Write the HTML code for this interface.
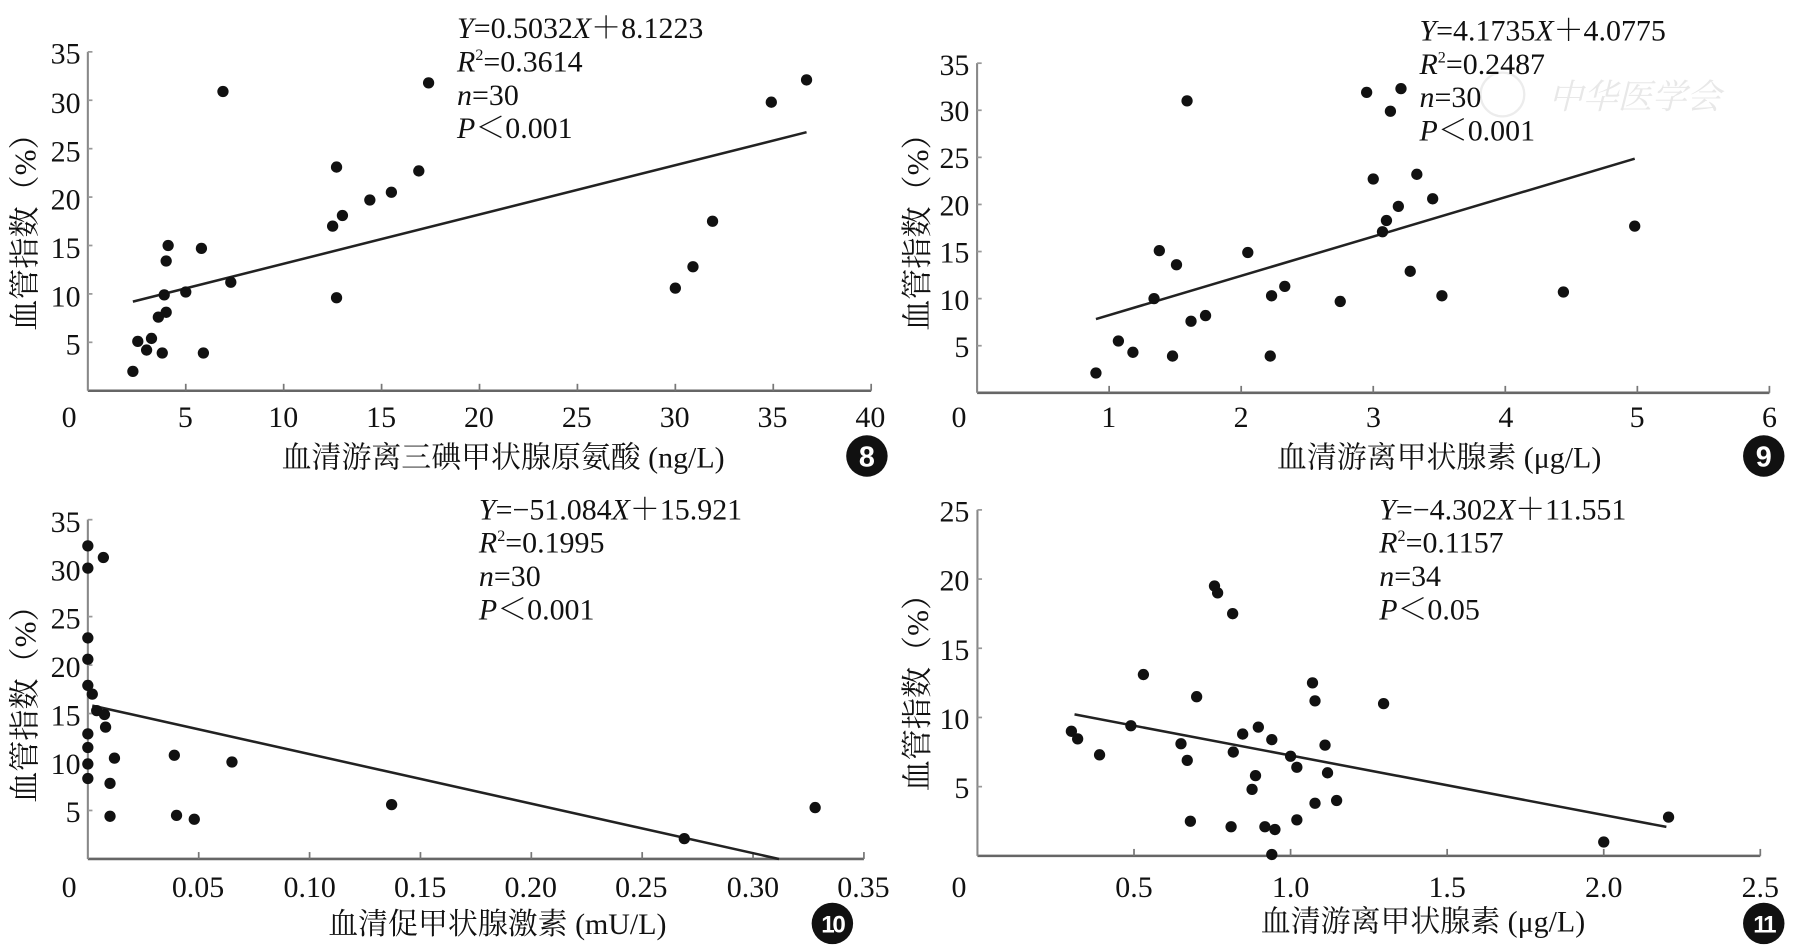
<!DOCTYPE html>
<html><head><meta charset="utf-8"><style>
html,body{margin:0;padding:0;background:#fff;}
svg{display:block;}
text{font-family:"Liberation Serif","Noto Serif CJK SC",serif;fill:#111;}
.cn{font-family:"Liberation Serif","Noto Serif CJK SC","Noto Sans CJK SC",serif;}
</style></head><body>
<svg id="s" width="1796" height="950" viewBox="0 0 1560 825" xmlns="http://www.w3.org/2000/svg" font-family="Liberation Serif, serif">
<rect width="1560" height="825" fill="#fff"/>
<g id="plot"></g>
<text x="1345" y="94" font-size="30" style="fill:#e8e8e8;font-style:italic" class="cn">中华医学会</text>
<circle cx="1305" cy="82" r="19" fill="none" stroke="#ececec" stroke-width="2"/>

<g font-size="26">
<text x="397" y="33"><tspan font-style="italic">Y</tspan>=0.5032<tspan font-style="italic">X</tspan>＋8.1223</text>
<text x="397" y="62"><tspan font-style="italic">R</tspan><tspan font-size="14" dy="-10">2</tspan><tspan dy="10">=0.3614</tspan></text>
<text x="397" y="91"><tspan font-style="italic">n</tspan>=30</text>
<text x="397" y="120"><tspan font-style="italic">P</tspan>＜0.001</text>

<text x="1233" y="35"><tspan font-style="italic">Y</tspan>=4.1735<tspan font-style="italic">X</tspan>＋4.0775</text>
<text x="1233" y="64"><tspan font-style="italic">R</tspan><tspan font-size="14" dy="-10">2</tspan><tspan dy="10">=0.2487</tspan></text>
<text x="1233" y="93"><tspan font-style="italic">n</tspan>=30</text>
<text x="1233" y="122"><tspan font-style="italic">P</tspan>＜0.001</text>

<text x="416" y="451"><tspan font-style="italic">Y</tspan>=−51.084<tspan font-style="italic">X</tspan>＋15.921</text>
<text x="416" y="480"><tspan font-style="italic">R</tspan><tspan font-size="14" dy="-10">2</tspan><tspan dy="10">=0.1995</tspan></text>
<text x="416" y="509"><tspan font-style="italic">n</tspan>=30</text>
<text x="416" y="538"><tspan font-style="italic">P</tspan>＜0.001</text>

<text x="1198" y="451"><tspan font-style="italic">Y</tspan>=−4.302<tspan font-style="italic">X</tspan>＋11.551</text>
<text x="1198" y="480"><tspan font-style="italic">R</tspan><tspan font-size="14" dy="-10">2</tspan><tspan dy="10">=0.1157</tspan></text>
<text x="1198" y="509"><tspan font-style="italic">n</tspan>=34</text>
<text x="1198" y="538"><tspan font-style="italic">P</tspan>＜0.05</text>
</g>

<g font-size="27" class="cn">
<text class="cn" transform="translate(31,195) rotate(-90)" text-anchor="middle">血管指数（%）</text>
<text class="cn" transform="translate(806,195) rotate(-90)" text-anchor="middle">血管指数（%）</text>
<text class="cn" transform="translate(31,605) rotate(-90)" text-anchor="middle">血管指数（%）</text>
<text class="cn" transform="translate(806,595) rotate(-90)" text-anchor="middle">血管指数（%）</text>
</g>
<g font-size="26" class="cn">
<text class="cn" x="437" y="406" text-anchor="middle">血清游离三碘甲状腺原氨酸 (ng/L)</text>
<text class="cn" x="1250" y="406" text-anchor="middle">血清游离甲状腺素 (μg/L)</text>
<text class="cn" x="432" y="811" text-anchor="middle">血清促甲状腺激素 (mU/L)</text>
<text class="cn" x="1236" y="809" text-anchor="middle">血清游离甲状腺素 (μg/L)</text>
</g>
<g font-weight="bold">
<circle cx="753" cy="396" r="18" fill="#111"/><text x="753" y="405" text-anchor="middle" font-size="25" style="fill:#fff;font-family:'Liberation Sans',sans-serif">8</text>
<circle cx="1532" cy="396" r="18" fill="#111"/><text x="1532" y="405" text-anchor="middle" font-size="25" style="fill:#fff;font-family:'Liberation Sans',sans-serif">9</text>
<circle cx="723" cy="802" r="18" fill="#111"/><text x="723" y="810" text-anchor="middle" font-size="21" style="fill:#fff;font-family:'Liberation Sans',sans-serif;letter-spacing:-2px">10</text>
<circle cx="1532" cy="802" r="18" fill="#111"/><text x="1532" y="810" text-anchor="middle" font-size="21" style="fill:#fff;font-family:'Liberation Sans',sans-serif;letter-spacing:-2px">11</text>
</g>

<g font-size="26" text-anchor="middle">
<text x="60" y="371">0</text><text x="161" y="371">5</text><text x="246" y="371">10</text><text x="331" y="371">15</text><text x="416" y="371">20</text><text x="501" y="371">25</text><text x="586" y="371">30</text><text x="671" y="371">35</text><text x="756" y="371">40</text>
<text x="833" y="371">0</text><text x="963" y="371">1</text><text x="1078" y="371">2</text><text x="1193" y="371">3</text><text x="1308" y="371">4</text><text x="1422" y="371">5</text><text x="1537" y="371">6</text>
<text x="60" y="779">0</text><text x="172" y="779">0.05</text><text x="269" y="779">0.10</text><text x="365" y="779">0.15</text><text x="461" y="779">0.20</text><text x="557" y="779">0.25</text><text x="654" y="779">0.30</text><text x="750" y="779">0.35</text>
<text x="833" y="779">0</text><text x="985" y="779">0.5</text><text x="1121" y="779">1.0</text><text x="1257" y="779">1.5</text><text x="1393" y="779">2.0</text><text x="1529" y="779">2.5</text>
</g>
<g font-size="26" text-anchor="end">
<text x="70" y="308">5</text><text x="70" y="266">10</text><text x="70" y="224">15</text><text x="70" y="182">20</text><text x="70" y="140">25</text><text x="70" y="98">30</text><text x="70" y="55">35</text>
<text x="842" y="310">5</text><text x="842" y="269">10</text><text x="842" y="228">15</text><text x="842" y="187">20</text><text x="842" y="146">25</text><text x="842" y="105">30</text><text x="842" y="65">35</text>
<text x="70" y="714">5</text><text x="70" y="672">10</text><text x="70" y="630">15</text><text x="70" y="588">20</text><text x="70" y="546">25</text><text x="70" y="504">30</text><text x="70" y="462">35</text>
<text x="842" y="693">5</text><text x="842" y="633">10</text><text x="842" y="573">15</text><text x="842" y="513">20</text><text x="842" y="453">25</text>
</g>
</svg>
<script>
var NS="http://www.w3.org/2000/svg",g=document.getElementById("plot");
function el(n,a){var e=document.createElementNS(NS,n);for(var k in a)e.setAttribute(k,a[k]);g.appendChild(e);return e;}
function chart(c){
 var X=function(v){return c.x0+c.sx*v},Y=function(v){return c.y0-c.sy*v};
 el("line",{x1:c.x0,y1:c.y0,x2:X(c.xmax),y2:c.y0,stroke:"#666","stroke-width":2.2});
 el("line",{x1:c.x0,y1:c.y0,x2:c.x0,y2:Y(c.ymax),stroke:"#888","stroke-width":1.8});
 for(var v=c.xs;v<=c.xmax+1e-9;v+=c.xs)el("line",{x1:X(v),y1:c.y0,x2:X(v),y2:c.y0-6,stroke:"#777","stroke-width":1.5});
 for(var v=c.ys;v<=c.ymax+1e-9;v+=c.ys)el("line",{x1:c.x0,y1:Y(v),x2:c.x0+4,y2:Y(v),stroke:"#999","stroke-width":1.5});
 el("line",{x1:X(c.l[0]),y1:Y(c.l[1]),x2:X(c.l[2]),y2:Y(c.l[3]),stroke:"#222","stroke-width":2.2});
 c.p.forEach(function(p){el("circle",{cx:X(p[0]),cy:Y(p[1]),r:4.9,fill:"#111"});});
}
chart({x0:76.3,sx:17.01,y0:339.3,sy:8.41,xmax:40,ymax:35,xs:5,ys:5,l:[2.3,9.2,36.7,26.7],
p:[[2.3,2],[2.55,5.1],[3,4.2],[3.25,5.4],[3.6,7.6],[3.8,3.9],[3.9,9.9],[4,8.1],[4,13.4],[4.1,15],[5,10.2],[5.8,14.7],[5.9,3.9],[6.9,30.9],[7.3,11.2],[12.5,17],[12.7,23.1],[12.7,9.6],[13,18.1],[14.4,19.7],[15.5,20.5],[16.9,22.7],[17.4,31.8],[30,10.6],[30.9,12.8],[31.9,17.5],[34.9,29.8],[36.7,32.1]]});
chart({x0:848.7,sx:114.7,y0:341.1,sy:8.18,xmax:6,ymax:35,xs:1,ys:5,l:[0.9,7.83,4.98,24.86],
p:[[0.9,2.1],[1.07,5.5],[1.18,4.3],[1.34,10],[1.38,15.1],[1.48,3.9],[1.51,13.6],[1.59,31],[1.62,7.6],[1.73,8.2],[2.05,14.9],[2.22,3.9],[2.23,10.3],[2.33,11.3],[2.75,9.7],[2.95,31.9],[3,22.7],[3.07,17.1],[3.1,18.3],[3.13,29.9],[3.19,19.8],[3.21,32.3],[3.28,12.9],[3.33,23.2],[3.45,20.6],[3.52,10.3],[4.44,10.7],[4.98,17.7]]});
chart({x0:76.3,sx:1926,y0:746,sy:8.42,xmax:0.35,ymax:35,xs:0.05,ys:5,l:[0.002,15.82,0.3117,0],
p:[[0,32.3],[0,30],[0.007,31.1],[0,22.8],[0,20.6],[0,17.9],[0.002,17],[0.004,15.3],[0.0075,14.9],[0.008,13.6],[0,12.9],[0,11.5],[0.012,10.4],[0.039,10.7],[0.065,10],[0,9.8],[0,8.3],[0.01,7.8],[0.01,4.4],[0.04,4.5],[0.048,4.1],[0.137,5.6],[0.269,2.1],[0.328,5.3]]});
chart({x0:849,sx:272,y0:743.3,sy:12.02,xmax:2.5,ymax:25,xs:0.5,ys:5,l:[0.31,10.22,2.2,2.09],
p:[[0.3,9],[0.32,8.45],[0.39,7.3],[0.49,9.4],[0.53,13.1],[0.65,8.1],[0.67,6.9],[0.68,2.5],[0.7,11.5],[0.757,19.5],[0.767,19],[0.81,2.1],[0.815,17.5],[0.817,7.5],[0.847,8.8],[0.877,4.8],[0.888,5.8],[0.897,9.3],[0.918,2.1],[0.94,8.4],[0.94,0.1],[0.95,1.9],[1,7.2],[1.02,6.4],[1.02,2.6],[1.07,12.5],[1.078,11.2],[1.078,3.8],[1.11,8],[1.118,6],[1.147,4],[1.297,11],[2,1],[2.207,2.8]]});
</script>
</body></html>
